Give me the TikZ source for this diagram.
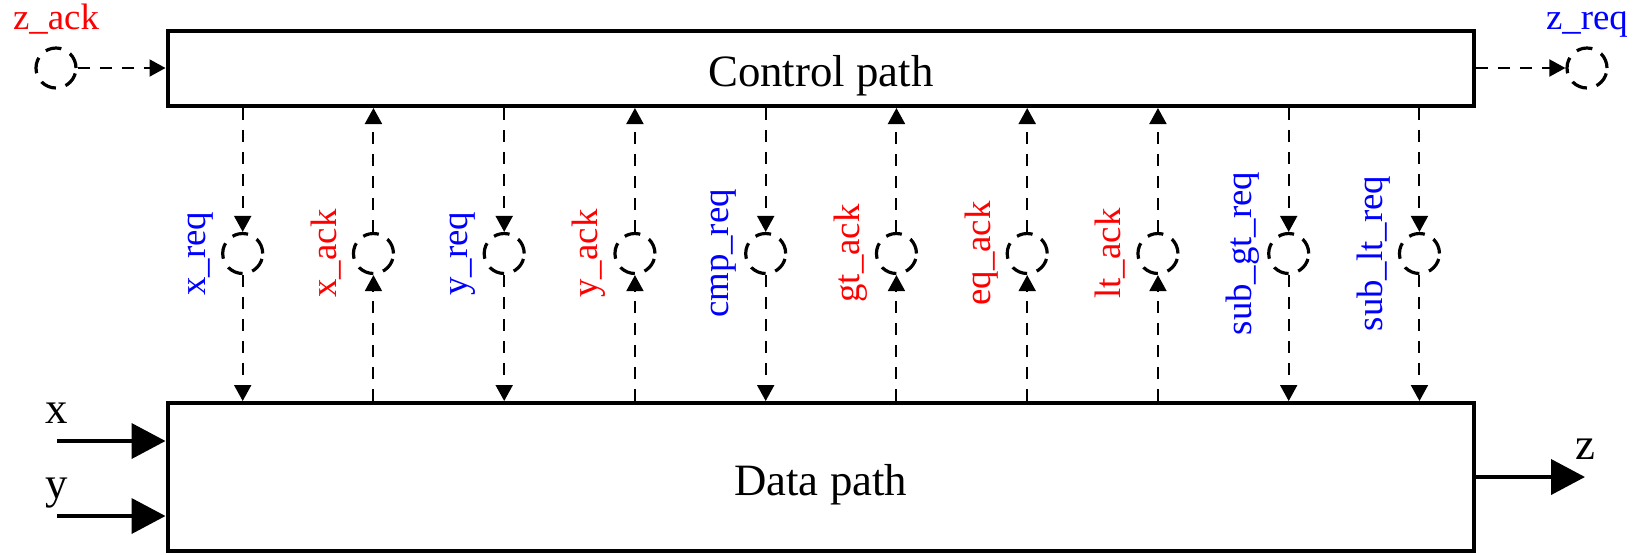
\documentclass[tikz,border=0pt]{standalone}
\usepackage{fontspec}
\setmainfont{Liberation Serif}
\usepackage{tikz}
\usetikzlibrary{arrows.meta,positioning,calc}
\definecolor{reqblue}{RGB}{0,0,255}
\definecolor{ackred}{RGB}{255,0,0}
\tikzset{
  block/.style={rectangle,draw,line width=2pt,minimum width=653.25pt,inner sep=0pt,
    text height=23.2pt,text depth=4.9pt,font=\fontsize{22.4}{26}\selectfont},
  port/.style={circle,draw,line width=1.6pt,dash pattern=on 8pt off 5pt,minimum size=20pt,inner sep=0pt},
  sig/.style={line width=1pt,dash pattern=on 6pt off 5pt,-{Triangle[length=8pt,width=8.5pt]}},
  bus/.style={line width=2pt,-{Triangle[length=17pt,width=17.5pt]}},
  siglabel/.style={font=\fontsize{18.4}{22}\selectfont,inner sep=0pt},
  iolabel/.style={font=\fontsize{22.4}{26}\selectfont,inner sep=0pt,anchor=base},
}

\begin{document}
\begin{tikzpicture}[x=0.5pt,y=-0.5pt]
  \useasboundingbox (0,0) rectangle (1639,554);

  % the two blocks
  \node[block,minimum height=37.75pt] (ctrl) at (820.75,68.25) {Control path};
  \node[block,minimum height=74pt] (data) at (820.75,477) {Data path};

  % data inputs and output
  \coordinate (xin) at (57,441);
  \coordinate (yin) at (57,516);
  \coordinate (zout) at (1585,477);
  \draw[bus] (xin) -- (xin -| data.west);
  \draw[bus] (yin) -- (yin -| data.west);
  \draw[bus] (data.east) -- (zout);
  \node[iolabel] (xlab) at ([yshift=9pt]xin) {x};
  \node[iolabel] (ylab) at ([yshift=9pt]yin) {y};
  \node[iolabel] (zlab) at ([yshift=9pt]zout) {z};

  % outer handshake
  \node[port] (zack) at (56,68) {};
  \node[port] (zreq) at (1587,68) {};
  \draw[sig] (zack.east) -- (zack.east -| ctrl.west);
  \draw[sig] (ctrl.east |- zreq) -- (zreq);
  \node[siglabel,text=ackred,anchor=base] (zacklab) at ([yshift=8.5pt]zack.north) {z\_ack};
  \node[siglabel,text=reqblue,anchor=base] (zreqlab) at ([yshift=8.5pt]zreq.north) {z\_req};

  % requests: control -> data
  \foreach \i/\name in {1/x\_req,3/y\_req,5/cmp\_req,9/sub\_gt\_req,10/sub\_lt\_req} {
    \pgfmathsetmacro\sx{242.7+130.75*(\i-1)}
    \node[port] (p\i) at (\sx,253.5) {};
    \draw[sig] (ctrl.south -| p\i) -- (p\i);
    \draw[sig] (p\i) -- (data.north -| p\i);
    \node[siglabel,text=reqblue,rotate=90,anchor=base] (l\i) at ([xshift=-7.7pt]p\i.west) {\name};
  }

  % acknowledges: data -> control
  \foreach \i/\name in {2/x\_ack,4/y\_ack,6/gt\_ack,7/eq\_ack,8/lt\_ack} {
    \pgfmathsetmacro\sx{242.7+130.75*(\i-1)}
    \node[port] (p\i) at (\sx,253.5) {};
    \draw[sig] (data.north -| p\i) -- (p\i);
    \draw[sig] (p\i) -- (ctrl.south -| p\i);
    \node[siglabel,text=ackred,rotate=90,anchor=base] (l\i) at ([xshift=-7.7pt]p\i.west) {\name};
  }
\end{tikzpicture}
\end{document}
